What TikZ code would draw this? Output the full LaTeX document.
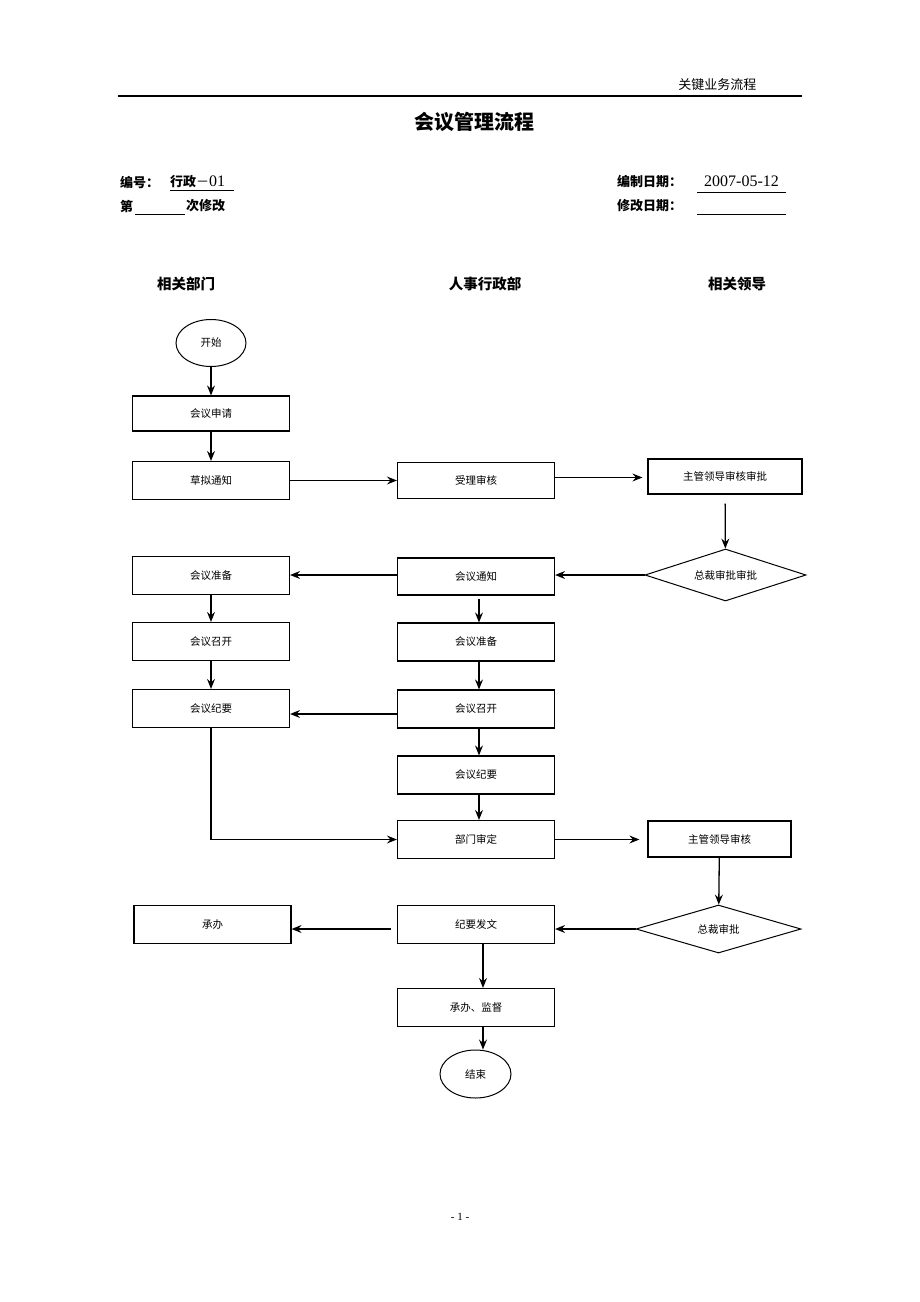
\documentclass[tikz,border=0pt]{standalone}
\usepackage{fontspec}
\setmainfont{Liberation Serif}
\newfontfamily\cjk{Noto Sans CJK SC}
\usetikzlibrary{positioning,shapes.geometric,arrows.meta}
\tikzset{box/.style={draw,line width=1.2pt,minimum width=157pt,minimum height=38pt,inner sep=0pt,font=\cjk\fontsize{10.5}{12}\selectfont}}
\tikzset{term/.style={draw,ellipse,line width=1pt,minimum width=70pt,minimum height=47pt,inner sep=0pt,font=\cjk\fontsize{10.5}{12}\selectfont}}
\tikzset{decide/.style={draw,diamond,aspect=3,line width=1pt,minimum width=161pt,minimum height=52pt,inner sep=0pt,font=\cjk\fontsize{10.5}{12}\selectfont}}
\tikzset{flow/.style={-{Stealth[length=10pt,width=8pt,inset=3.5pt]},line width=1.3pt}}
\tikzset{lane/.style={font=\cjk\bfseries\fontsize{14.5}{16}\selectfont}}
\tikzset{field/.style={anchor=west,inner sep=0pt,font=\cjk\bfseries\fontsize{13}{15}\selectfont}}

\begin{document}
\begin{tikzpicture}[x=1pt,y=-1pt]
  \useasboundingbox[fill=white] (0,0) rectangle (920,1302);
  % page head
  \node[anchor=east,font=\cjk\fontsize{13}{14}\selectfont] (runhead) at (760,85) {关键业务流程};
  \draw[line width=1.4pt] (118,96) -- (802,96);
  \node[font=\cjk\bfseries\fontsize{20}{22}\selectfont] (title) at (474,122) {会议管理流程};
  \node[field] (codelbl) at (120,182) {编号：};
  \node[field] (code) at (170,182) {行政{\mdseries －}{\rmfamily\mdseries\fontsize{16}{17}\selectfont 01}};
  \draw (code.south west) ++(0,2) -- ++(64,0);
  \node[field] (datelbl) at (617,182) {编制日期：};
  \node[anchor=west,inner sep=0pt,font=\fontsize{16}{17}\selectfont] (date) at (704,181) {2007-05-12};
  \draw (697,192) -- (786,192);
  \node[field] (revlbl) at (120,206) {第};
  \draw (135,214) -- (185,214);
  \node[field] (revtxt) at (186,206) {次修改};
  \node[field] (revdate) at (617,206) {修改日期：};
  \draw (697,214) -- (786,214);
  % lanes
  \node[lane] (dept) at (186,284) {相关部门};
  \node[lane] (hr) at (485,284) {人事行政部};
  \node[lane] (boss) at (737,284) {相关领导};
  % nodes
  \node[term] (start) at (211,343) {开始};
  \node[box,minimum height=35pt] (apply) at (211,413.5) {会议申请};
  \node[box] (draft) at (211,480.5) {草拟通知};
  \node[box,minimum height=36pt] (accept) at (476,480.5) {受理审核};
  \node[box,minimum width=154pt,minimum height=35pt] (lead1) at (725,476.5) {主管领导审核审批};
  \node[decide] (ceo1) at (725.5,575) {总裁审批审批};
  \node[box,minimum height=37pt] (notice) at (476,576.5) {会议通知};
  \node[box] (prepL) at (211,575.5) {会议准备};
  \node[box] (holdL) at (211,641.5) {会议召开};
  \node[box] (minL) at (211,708.5) {会议纪要};
  \node[box] (prepM) at (476,642) {会议准备};
  \node[box] (holdM) at (476,709) {会议召开};
  \node[box] (minM) at (476,775) {会议纪要};
  \node[box] (review) at (476,839.5) {部门审定};
  \node[box,minimum width=143pt,minimum height=36pt] (lead2) at (719.5,839) {主管领导审核};
  \node[decide,minimum width=165pt,minimum height=48pt] (ceo2) at (718.5,929) {总裁审批};
  \node[box] (issue) at (476,924.5) {纪要发文};
  \node[box] (handle) at (212.5,924.5) {承办};
  \node[box] (supervise) at (476,1007.5) {承办、监督};
  \node[term,minimum width=71pt,minimum height=48pt] (finish) at (475.5,1074) {结束};
  % connectors
  \draw[flow] (start) -- (apply);
  \draw[flow] (apply) -- (draft);
  \draw[flow] (draft) -- (accept);
  \draw[flow,shorten >=5pt] ([yshift=3pt]accept.east) -- ([yshift=3pt]accept.east -| lead1.west);
  \draw[flow,shorten <=9pt] (lead1) -- (ceo1);
  \draw[flow] (ceo1.west) -- (ceo1.west -| notice.east);
  \draw[flow] (ceo1.west -| notice.west) -- (ceo1.west -| prepL.east);
  \draw[flow] (prepL) -- (holdL);
  \draw[flow] (holdL) -- (minL);
  \draw[flow,shorten <=3pt] ([xshift=3pt]notice.south) -- ([xshift=3pt]prepM.north);
  \draw[flow] ([xshift=3pt]prepM.south) -- ([xshift=3pt]holdM.north);
  \draw[flow] ([yshift=-5pt]holdM.west) -- ([yshift=-5pt]holdM.west -| minL.east);
  \draw[flow] ([xshift=3pt]holdM.south) -- ([xshift=3pt]minM.north);
  \draw[flow] ([xshift=3pt]minM.south) -- ([xshift=3pt]review.north);
  \draw[flow] (minL.south) |- (review.west);
  \draw[flow,shorten >=8pt] (review) -- (review -| lead2.west);
  \draw[flow] (lead2) -- (ceo2);
  \draw[flow] (ceo2.west) -- (ceo2.west -| issue.east);
  \draw[flow,shorten <=6pt] (ceo2.west -| issue.west) -- (ceo2.west -| handle.east);
  \draw[flow] ([xshift=7pt]issue.south) -- ([xshift=7pt]supervise.north);
  \draw[flow] ([xshift=7pt]supervise.south) -- ([xshift=7pt]supervise.south |- finish.north);
  % page number
  \node[font=\fontsize{11}{12}\selectfont] (pageno) at (460,1217) {- 1 -};
\end{tikzpicture}
\end{document}
